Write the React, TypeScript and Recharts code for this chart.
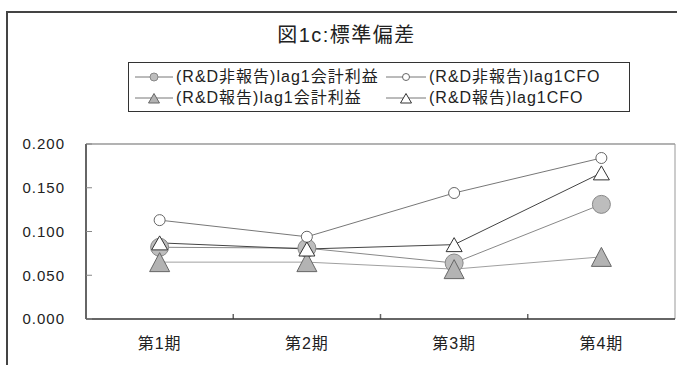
import { LineChart, Line, XAxis, YAxis, Legend, ReferenceLine, usePlotArea } from 'recharts'

const periods = ['第1期', '第2期', '第3期', '第4期']

// 標準偏差（目視で読み取り）
const hiKaikei = [0.082, 0.081, 0.064, 0.131] // (R&D非報告)lag1会計利益
const hiCFO = [0.113, 0.094, 0.144, 0.184]    // (R&D非報告)lag1CFO
const hoKaikei = [0.065, 0.065, 0.057, 0.071] // (R&D報告)lag1会計利益
const hoCFO = [0.087, 0.080, 0.085, 0.167]    // (R&D報告)lag1CFO

const yTicks = [0, 0.05, 0.1, 0.15, 0.2]

const data = periods.map((p, i) => ({
  period: p,
  hiKaikei: hiKaikei[i],
  hiCFO: hiCFO[i],
  hoKaikei: hoKaikei[i],
  hoCFO: hoCFO[i],
}))

const FONT = '"Liberation Sans", "Noto Sans CJK JP", sans-serif'

// eslint-disable-next-line @typescript-eslint/no-explicit-any
const tri = (w: number, h: number, fill: string, stroke: string) => (props: any) => {
  const { cx, cy, index } = props
  if (cx == null || cy == null) return <g key={index} />
  return (
    <polygon
      key={index}
      points={`${cx},${cy - h / 2} ${cx - w / 2},${cy + h / 2} ${cx + w / 2},${cy + h / 2}`}
      fill={fill}
      stroke={stroke}
      strokeWidth={1}
    />
  )
}

// 凡例のアイコン
function Icon({ kind, w }: { kind: string; w: number }) {
  const m = w / 2
  return (
    <svg width={w} height={12} style={{ display: 'block' }}>
      <line x1={0} y1={6} x2={w} y2={6} stroke="#777" strokeWidth={1} />
      {kind === 'fc' && <circle cx={m} cy={6} r={4} fill="#bdbdbd" stroke="#888" />}
      {kind === 'oc' && <circle cx={m} cy={6} r={3.5} fill="#fff" stroke="#666" />}
      {kind === 'ft' && <polygon points={`${m},1.5 ${m - 5.5},11 ${m + 5.5},11`} fill="#b3b3b3" stroke="#666" />}
      {kind === 'ot' && <polygon points={`${m},1.5 ${m - 5.5},11 ${m + 5.5},11`} fill="#fff" stroke="#333" />}
    </svg>
  )
}

const legendItems = [
  { label: '(R&D非報告)lag1会計利益', kind: 'fc', left: 6, top: 7, w: 38 },
  { label: '(R&D非報告)lag1CFO', kind: 'oc', left: 257, top: 7, w: 40 },
  { label: '(R&D報告)lag1会計利益', kind: 'ft', left: 6, top: 28, w: 38 },
  { label: '(R&D報告)lag1CFO', kind: 'ot', left: 257, top: 28, w: 40 },
]

function LegendBox() {
  return (
    <div style={{ position: 'relative', width: 500, height: 48, border: '1px solid #333', background: '#fff', fontFamily: FONT }}>
      {legendItems.map((it) => (
        <div key={it.label} style={{ position: 'absolute', left: it.left, top: it.top, display: 'flex', alignItems: 'center', height: 14 }}>
          <Icon kind={it.kind} w={it.w} />
          <span style={{ fontSize: 16, letterSpacing: 1, color: '#222', marginLeft: 3, whiteSpace: 'nowrap', lineHeight: '14px' }}>{it.label}</span>
        </div>
      ))}
    </div>
  )
}

// プロット枠（上・右）と区切り目盛
function PlotFrame() {
  const area = usePlotArea()
  if (!area) return null
  const { x, y, width, height } = area
  const n = periods.length
  return (
    <g>
      <line x1={x} y1={y} x2={x + width} y2={y} stroke="#999" />
      <line x1={x + width} y1={y} x2={x + width} y2={y + height} stroke="#999" />
      {periods.slice(1).map((p, i) => {
        const bx = x + (width * (i + 1)) / n
        return <line key={p} x1={bx} y1={y + height} x2={bx} y2={y + height - 5} stroke="#666" strokeWidth={1.5} />
      })}
    </g>
  )
}

export default function App() {
  return (
    <div style={{ position: 'absolute', left: 0, top: 0, width: 677, height: 365, overflow: 'hidden', background: '#fff' }}>
      <div style={{ position: 'absolute', left: 6, top: 11, width: 720, height: 420, border: '2px solid #444' }} />
      <div style={{ position: 'absolute', left: 0, top: 22, width: 693, textAlign: 'center', fontFamily: FONT, fontSize: 20, letterSpacing: 1.5, color: '#222', lineHeight: '26px' }}>
        図1c:標準偏差
      </div>
      <div style={{ position: 'absolute', left: 0, top: 0 }}>
        <LineChart width={677} height={365} data={data} margin={{ top: 144, right: 2, bottom: 0, left: 6 }}>
          <PlotFrame />
          <XAxis
            dataKey="period"
            scale="band"
            height={46}
            axisLine={{ stroke: '#333', strokeWidth: 1.5 }}
            tickLine={false}
            tickSize={0}
            tickMargin={19}
            tick={{ fill: '#222', fontSize: 16, fontFamily: FONT, letterSpacing: 1 }}
          />
          <YAxis
            domain={[0, 0.2]}
            ticks={yTicks}
            width={80}
            axisLine={{ stroke: '#333', strokeWidth: 1.5 }}
            tickLine={{ stroke: '#888' }}
            tickSize={-6}
            tickMargin={27}
            tickFormatter={(v: number) => v.toFixed(3)}
            tick={{ fill: '#222', fontSize: 15, fontFamily: FONT, letterSpacing: 1 }}
          />
          <Legend
            layout="horizontal"
            verticalAlign="middle"
            align="center"
            wrapperStyle={{ left: 128, top: 62, width: 502, height: 50 }}
            content={<LegendBox />}
          />
          <Line
            dataKey="hiKaikei"
            name="(R&D非報告)lag1会計利益"
            stroke="#888"
            strokeWidth={1}
            dot={{ r: 9, fill: '#bdbdbd', stroke: '#888', strokeWidth: 1 }}
            isAnimationActive={false}
          />
          <Line
            dataKey="hiCFO"
            name="(R&D非報告)lag1CFO"
            stroke="#777"
            strokeWidth={1}
            dot={{ r: 5.5, fill: '#fff', stroke: '#666', strokeWidth: 1 }}
            isAnimationActive={false}
          />
          <Line
            dataKey="hoKaikei"
            name="(R&D報告)lag1会計利益"
            stroke="#a0a0a0"
            strokeWidth={1}
            dot={tri(20, 19, '#b3b3b3', '#666')}
            isAnimationActive={false}
          />
          <Line
            dataKey="hoCFO"
            name="(R&D報告)lag1CFO"
            stroke="#444"
            strokeWidth={1}
            dot={tri(16, 14, '#fff', '#333')}
            isAnimationActive={false}
          />
          <ReferenceLine y={0.2} stroke="#999" ifOverflow="extendDomain" />
        </LineChart>
      </div>
    </div>
  )
}
